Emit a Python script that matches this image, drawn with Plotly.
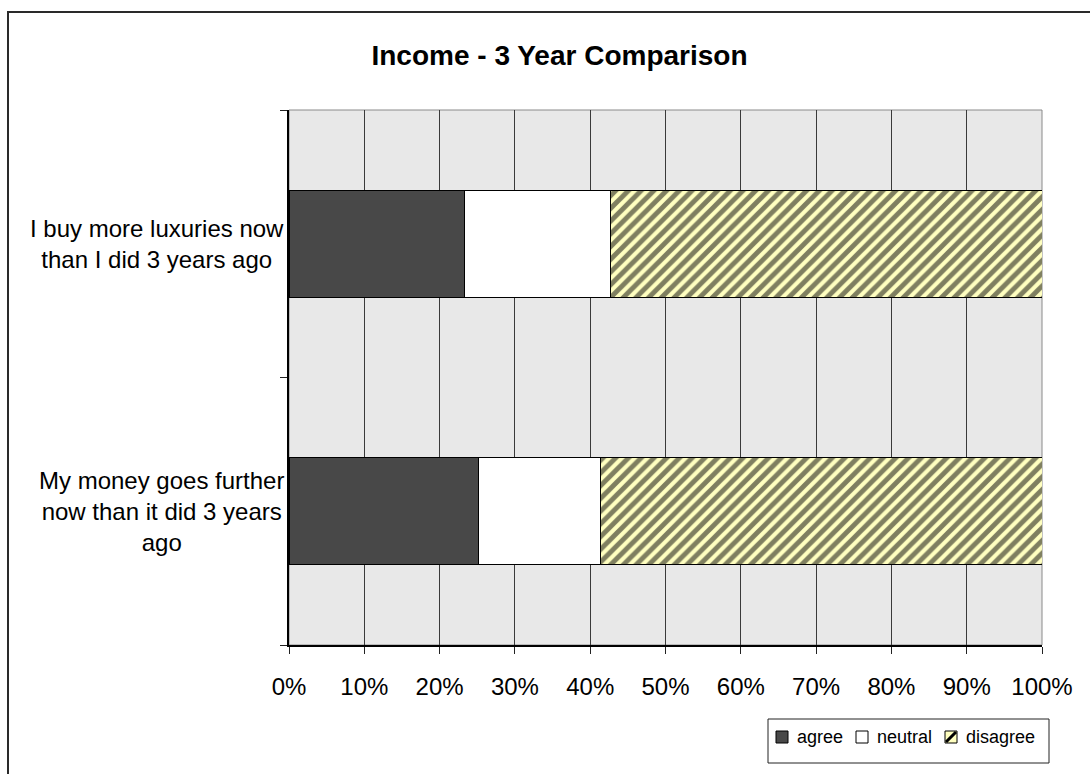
import plotly.graph_objects as go

# Survey statements (bottom to top) and response shares in percent
statements = [
    "My money goes further now than it did 3 years ago",
    "I buy more luxuries now than I did 3 years ago",
]
statement_labels = [
    "My money goes further<br>now than it did 3 years<br>ago",
    "I buy more luxuries now<br>than I did 3 years ago",
]
agree = [25.2, 23.3]
neutral = [16.2, 19.4]
disagree = [58.6, 57.3]
x_ticks = [0, 10, 20, 30, 40, 50, 60, 70, 80, 90, 100]
x_tick_text = ["0%", "10%", "20%", "30%", "40%", "50%", "60%", "70%", "80%", "90%", "100%"]
legend_names = ["agree", "neutral", "disagree"]

FONT = "Arial, Liberation Sans, sans-serif"
W, H = 1090, 774
L, R, T, B = 289, 48, 110, 129
PW, PH = W - L - R, H - T - B

AGREE_C = "#484848"
NEUTRAL_C = "#ffffff"
DIS_C = "#ffffc0"


def px(xp):
    return (xp - L) / PW


def py(yp):
    return (H - B - yp) / PH


fig = go.Figure()
bar_line = dict(color="black", width=1)
fig.add_trace(go.Bar(y=statements, x=agree, orientation="h", name=legend_names[0],
                     marker=dict(color=AGREE_C, line=bar_line), width=0.4, showlegend=False))
fig.add_trace(go.Bar(y=statements, x=neutral, orientation="h", name=legend_names[1],
                     marker=dict(color=NEUTRAL_C, line=bar_line), width=0.4, showlegend=False))
fig.add_trace(go.Bar(y=statements, x=disagree, orientation="h", name=legend_names[2],
                     marker=dict(color=DIS_C, line=bar_line,
                                 pattern=dict(shape="/", fgcolor="black", bgcolor=DIS_C,
                                              size=9, solidity=0.55, fillmode="overlay")),
                     width=0.4, showlegend=False))

shapes = []
# outer chart frame (runs off the right and bottom edges)
shapes.append(dict(type="rect", xref="paper", yref="paper",
                   x0=px(8), x1=px(W + 20), y0=py(H + 20), y1=py(12),
                   line=dict(color="#2a2a2a", width=2), fillcolor="rgba(0,0,0,0)", layer="above"))
# plot area frame (top and right edges in grey)
shapes.append(dict(type="rect", xref="paper", yref="paper", x0=0, x1=1, y0=0, y1=1,
                   line=dict(color="#8a8a8a", width=1), fillcolor="rgba(0,0,0,0)", layer="below"))

annotations = []
for s, lab in zip(statements, statement_labels):
    annotations.append(dict(x=0, xref="paper", y=s, yref="y", text=lab, showarrow=False,
                            xanchor="right", yanchor="middle", align="center", xshift=-3,
                            font=dict(family=FONT, size=24, color="black")))

# legend box with swatches
shapes.append(dict(type="rect", xref="paper", yref="paper",
                   x0=px(768), x1=px(1049), y0=py(763), y1=py(719),
                   line=dict(color="#222222", width=1), fillcolor="white"))
sw_y0, sw_y1 = py(743), py(731)
legend_items = [(776, 795, AGREE_C), (856, 875, NEUTRAL_C), (945, 964, DIS_C)]
for (sx, tx, col), name in zip(legend_items, legend_names):
    shapes.append(dict(type="rect", xref="paper", yref="paper",
                       x0=px(sx), x1=px(sx + 12), y0=sw_y0, y1=sw_y1,
                       line=dict(color="black", width=1), fillcolor=col))
    if name == "disagree":
        shapes.append(dict(type="line", xref="paper", yref="paper",
                           x0=px(sx + 1), x1=px(sx + 11), y0=py(742), y1=py(732),
                           line=dict(color="black", width=3)))
    annotations.append(dict(x=px(tx), xref="paper", y=py(737), yref="paper", text=name,
                            showarrow=False, xanchor="left", yanchor="middle",
                            font=dict(family=FONT, size=18, color="black")))

fig.update_layout(
    width=W, height=H,
    margin=dict(l=L, r=R, t=T, b=B, pad=0),
    paper_bgcolor="white", plot_bgcolor="#e8e8e8",
    barmode="stack", bargap=0.6,
    title=dict(text="<b>Income - 3 Year Comparison</b>", xref="container", yref="container",
               x=559.5 / W, y=1 - 55 / H, xanchor="center", yanchor="middle",
               font=dict(family=FONT, size=28, color="black")),
    font=dict(family=FONT, color="black"),
    shapes=shapes, annotations=annotations,
    showlegend=False,
)
fig.update_xaxes(range=[0, 100], tickvals=x_ticks, ticktext=x_tick_text,
                 showgrid=True, gridcolor="#3a3a3a", gridwidth=1,
                 ticks="outside", ticklen=7, tickcolor="#222222",
                 ticklabelstandoff=12,
                 showline=True, linecolor="black", linewidth=2,
                 tickfont=dict(family=FONT, size=24, color="black"),
                 zeroline=False, fixedrange=True)
fig.update_yaxes(type="category", categoryorder="array", categoryarray=statements,
                 range=[-0.5, 1.5], tickson="boundaries", ticks="outside", ticklen=7,
                 tickcolor="#222222", showticklabels=False, showgrid=False,
                 showline=True, linecolor="black", linewidth=2, zeroline=False,
                 fixedrange=True)

fig.write_html("out.html", config={"displayModeBar": False})
